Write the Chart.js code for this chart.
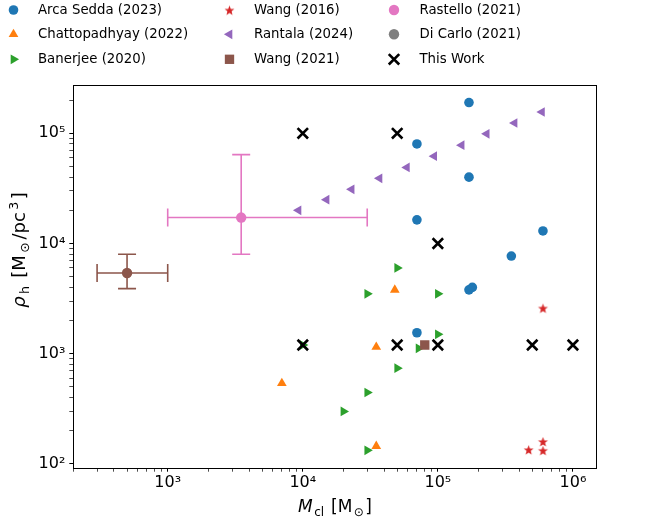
<!DOCTYPE html>
<html>
<head>
<meta charset="utf-8">
<script src="https://cdn.jsdelivr.net/npm/chart.js@4.4.0/dist/chart.umd.min.js"></script>
<style>
  body { margin: 0; background: #fff; }
  #wrap { width: 656px; height: 520px; }
</style>
</head>
<body>
<div id="wrap"><canvas id="rhoChart"></canvas></div>
<script>
// cluster mass [Msun] vs half-mass density [Msun/pc^3]
const names = ['Arca Sedda (2023)', 'Chattopadhyay (2022)', 'Banerjee (2020)', 'Wang (2016)', 'Rantala (2024)', 'Wang (2021)', 'Rastello (2021)', 'Di Carlo (2021)', 'This Work']

const arcaM = [1.7e5, 7e4, 1.7e5, 7e4, 6e5, 3.5e5, 1.7e5, 1.8e5, 7e4]
const arcaRho = [1.9e5, 8e4, 4e4, 1.64e4, 1.3e4, 7.7e3, 3.8e3, 4.0e3, 1.55e3]
const chattoM = [7e3, 4.8e4, 3.5e4, 3.5e4]
const chattoRho = [540, 3.8e3, 1.15e3, 145]
const banerjeeM = [1e4, 2e4, 3e4, 1e5, 5e4, 1e5, 7.2e4, 5e4, 3e4, 3e4]
const banerjeeRho = [1.2e3, 300, 3.5e3, 3.5e3, 6e3, 1.5e3, 1.12e3, 740, 445, 133]
const wang16M = [6e5, 6e5, 4.7e5, 6e5]
const wang16Rho = [2.6e3, 160, 135, 133]
const rantalaM = [9.3e3, 1.5e4, 2.3e4, 3.7e4, 5.9e4, 9.4e4, 1.5e5, 2.3e5, 3.7e5, 5.9e5]
const rantalaRho = [2.0e4, 2.5e4, 3.1e4, 3.9e4, 4.9e4, 6.2e4, 7.8e4, 9.9e4, 1.24e5, 1.56e5]
const wang21M = [8e4]
const wang21Rho = [1.2e3]
const rastelloM = [3.5e3]
const rastelloRho = [1.72e4]
const rastelloMErr = [[1e3, 3e4]]
const rastelloRhoErr = [[8e3, 6.4e4]]
const dicarloM = [500]
const dicarloRho = [5.4e3]
const dicarloMErr = [[300, 1e3]]
const dicarloRhoErr = [[3.9e3, 8e3]]
const thisM = [1e4, 5e4, 1e5, 1e4, 5e4, 1e5, 5e5, 1e6]
const thisRho = [1e5, 1e5, 1e4, 1.2e3, 1.2e3, 1.2e3, 1.2e3, 1.2e3]

const xMajor = [1e3, 1e4, 1e5, 1e6]
const yMajor = [1e2, 1e3, 1e4, 1e5]

const X_MIN = 200
const X_MAX = 1.5e6
const Y_MIN = 92.5
const Y_MAX = 2.76e5

const FONT = 'DejaVu Sans'
const SUP = { '0': '⁰', '1': '¹', '2': '²', '3': '³', '4': '⁴', '5': '⁵', '6': '⁶', '7': '⁷', '8': '⁸', '9': '⁹' }

function powLabel (v) {
  const e = String(Math.round(Math.log10(v)))
  return '10' + e.split('').map(c => SUP[c]).join('')
}

function logTicks (min, max, majors) {
  const out = []
  for (let e = -1; e <= 8; e++) {
    for (let m = 1; m <= 9; m++) {
      const v = m * Math.pow(10, e)
      if (v >= min && v <= max) out.push({ value: v, major: majors.includes(v) })
    }
  }
  return out
}

function pts (xs, ys) {
  return xs.map((x, i) => ({ x: x, y: ys[i] }))
}

function starImage (color, r) {
  const s = Math.ceil(r * 2 + 2)
  const c = document.createElement('canvas')
  c.width = s
  c.height = s
  const g = c.getContext('2d')
  g.fillStyle = color
  g.beginPath()
  for (let i = 0; i < 10; i++) {
    const rr = i % 2 ? r * 0.42 : r
    const a = -Math.PI / 2 + i * Math.PI / 5
    g.lineTo(s / 2 + rr * Math.cos(a), s / 2 + 0.7 + rr * Math.sin(a))
  }
  g.closePath()
  g.fill()
  return c
}

const star = starImage('#d62728', 5.2)

const styles = [
  { pointStyle: 'circle', pointRadius: 4.8, color: '#1f77b4' },
  { pointStyle: 'triangle', pointRadius: 5.6, color: '#ff7f0e' },
  { pointStyle: 'triangle', pointRadius: 5.6, color: '#2ca02c', rotation: 90 },
  { pointStyle: star, pointRadius: 5.2, color: '#d62728' },
  { pointStyle: 'triangle', pointRadius: 5.6, color: '#9467bd', rotation: -90 },
  { pointStyle: 'rect', pointRadius: 6.6, color: '#8c564b' },
  { pointStyle: 'circle', pointRadius: 5.2, color: '#e377c2' },
  { pointStyle: 'circle', pointRadius: 5.2, color: '#8c564b', legendColor: '#7f7f7f' },
  { pointStyle: 'crossRot', pointRadius: 7.4, color: '#000000', borderWidth: 2.6 }
]

const seriesData = [
  pts(arcaM, arcaRho),
  pts(chattoM, chattoRho),
  pts(banerjeeM, banerjeeRho),
  pts(wang16M, wang16Rho),
  pts(rantalaM, rantalaRho),
  pts(wang21M, wang21Rho),
  pts(rastelloM, rastelloRho),
  pts(dicarloM, dicarloRho),
  pts(thisM, thisRho)
]

const datasets = names.map((name, i) => {
  const st = styles[i]
  return {
    label: name,
    data: seriesData[i],
    pointStyle: st.pointStyle,
    pointRadius: st.pointRadius,
    pointHoverRadius: st.pointRadius,
    pointRotation: st.rotation || 0,
    backgroundColor: st.color,
    borderColor: st.color,
    pointBorderWidth: st.borderWidth || 0,
    order: names.length - 1 - i
  }
})

const errorBars = [
  { m: rastelloM, rho: rastelloRho, mErr: rastelloMErr, rhoErr: rastelloRhoErr, color: '#e377c2' },
  { m: dicarloM, rho: dicarloRho, mErr: dicarloMErr, rhoErr: dicarloRhoErr, color: '#8c564b' }
]

const errorBarPlugin = {
  id: 'errorBars',
  beforeDatasetsDraw (chart) {
    const ctx = chart.ctx
    const xs = chart.scales.x
    const ys = chart.scales.y
    const cap = 9
    ctx.save()
    ctx.lineWidth = 1.6
    errorBars.forEach(eb => {
      ctx.strokeStyle = eb.color
      eb.m.forEach((m, i) => {
        const px = xs.getPixelForValue(m)
        const py = ys.getPixelForValue(eb.rho[i])
        const x0 = xs.getPixelForValue(eb.mErr[i][0])
        const x1 = xs.getPixelForValue(eb.mErr[i][1])
        const y0 = ys.getPixelForValue(eb.rhoErr[i][0])
        const y1 = ys.getPixelForValue(eb.rhoErr[i][1])
        ctx.beginPath()
        ctx.moveTo(x0, py); ctx.lineTo(x1, py)
        ctx.moveTo(x0, py - cap); ctx.lineTo(x0, py + cap)
        ctx.moveTo(x1, py - cap); ctx.lineTo(x1, py + cap)
        ctx.moveTo(px, y0); ctx.lineTo(px, y1)
        ctx.moveTo(px - cap, y0); ctx.lineTo(px + cap, y0)
        ctx.moveTo(px - cap, y1); ctx.lineTo(px + cap, y1)
        ctx.stroke()
      })
    })
    ctx.restore()
  }
}

// text pieces: [text, size, shift, italic]; gap = extra room between pieces
function drawMath (ctx, parts, cx, baseY, gap) {
  const fontOf = p => (p[3] ? 'oblique ' : '') + p[1] + 'px "' + FONT + '"'
  let w = gap * (parts.length - 1)
  parts.forEach(p => { ctx.font = fontOf(p); w += ctx.measureText(p[0]).width })
  let x = cx - w / 2
  ctx.textAlign = 'left'
  ctx.textBaseline = 'alphabetic'
  parts.forEach(p => {
    ctx.font = fontOf(p)
    ctx.fillText(p[0], x, baseY + p[2])
    x += ctx.measureText(p[0]).width + gap
  })
}

const decorPlugin = {
  id: 'decor',
  afterDraw (chart) {
    const ctx = chart.ctx
    const a = chart.chartArea
    ctx.save()

    // axes frame
    ctx.strokeStyle = '#000'
    ctx.lineWidth = 1
    ctx.strokeRect(Math.round(a.left) + 0.5, Math.round(a.top) + 0.5, Math.round(a.right - a.left), Math.round(a.bottom - a.top))

    // axis titles
    ctx.fillStyle = '#000'
    drawMath(ctx, [['M', 17, 0, true], ['cl', 12, 3.8], [' [M', 17, 0], ['⊙', 12, 3.8], [']', 17, 0]], (a.left + a.right) / 2, 512, 1.5)
    ctx.translate(25, 250)
    ctx.rotate(-Math.PI / 2)
    drawMath(ctx, [['ρ', 18, 0, true], ['h', 12.6, 4], [' [M', 18, 0], ['⊙', 12.6, 4], ['/pc', 18, 0], ['3', 12.6, -7.4], [']', 18, 0]], 0, 0, 2.5)
    ctx.restore()

    // legend, three columns filled top to bottom
    const colMark = [13.5, 229.5, 394]
    const colText = [38, 254, 419.5]
    const rowY = [10, 34.3, 59.3]
    ctx.save()
    names.forEach((name, i) => {
      const st = styles[i]
      const c = Math.floor(i / 3)
      const r = i % 3
      const col = st.legendColor || st.color
      ctx.fillStyle = col
      ctx.strokeStyle = col
      ctx.lineWidth = st.borderWidth || 0
      Chart.helpers.drawPoint(ctx, {
        pointStyle: st.pointStyle,
        rotation: st.rotation || 0,
        radius: st.pointRadius,
        borderWidth: st.borderWidth || 0
      }, colMark[c], rowY[r])
      ctx.fillStyle = '#000'
      ctx.font = '13.3px "' + FONT + '"'
      ctx.textAlign = 'left'
      ctx.textBaseline = 'middle'
      ctx.fillText(name, colText[c], rowY[r] + 0.5)
    })
    ctx.restore()
  }
}

const ctx = document.getElementById('rhoChart').getContext('2d')
const rhoChart = new Chart(ctx, {
  type: 'scatter',
  data: { datasets: datasets },
  options: {
    responsive: true,
    maintainAspectRatio: false,
    animation: false,
    layout: { padding: { top: 84.7, right: 59.3, left: 0, bottom: 0 } },
    plugins: {
      legend: { display: false },
      tooltip: { enabled: false }
    },
    scales: {
      x: {
        type: 'logarithmic',
        min: X_MIN,
        max: X_MAX,
        afterBuildTicks: axis => { axis.ticks = logTicks(X_MIN, X_MAX, xMajor) },
        afterFit: scale => { scale.height = 52.3 },
        border: { display: false },
        grid: {
          drawOnChartArea: false,
          tickLength: 4,
          tickColor: '#000',
          tickWidth: c => (c.tick && c.tick.major ? 1 : 0.7)
        },
        ticks: {
          autoSkip: false,
          maxRotation: 0,
          padding: 2,
          color: '#000',
          font: { family: FONT, size: 16 },
          callback: v => (xMajor.includes(v) ? powLabel(v) : '')
        }
      },
      y: {
        type: 'logarithmic',
        min: Y_MIN,
        max: Y_MAX,
        afterBuildTicks: axis => { axis.ticks = logTicks(Y_MIN, Y_MAX, yMajor) },
        afterFit: scale => { scale.width = 73.3 },
        border: { display: false },
        grid: {
          drawOnChartArea: false,
          tickLength: 4,
          tickColor: '#000',
          tickWidth: c => (c.tick && c.tick.major ? 1 : 0.7)
        },
        ticks: {
          autoSkip: false,
          padding: 4,
          color: '#000',
          font: { family: FONT, size: 16 },
          callback: v => (yMajor.includes(v) ? powLabel(v) : '')
        }
      }
    }
  },
  plugins: [errorBarPlugin, decorPlugin]
})
</script>
</body>
</html>
